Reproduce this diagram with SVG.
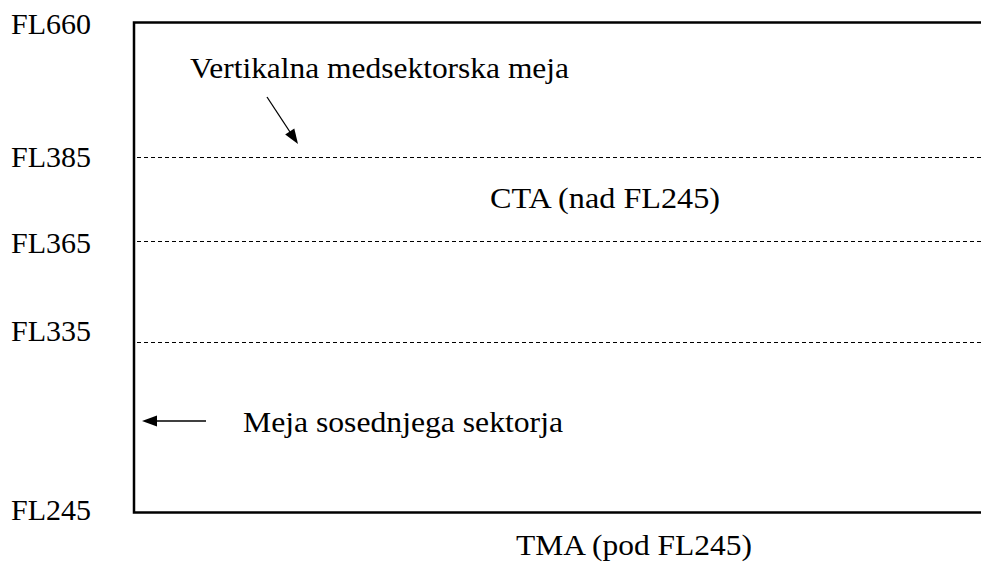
<svg xmlns="http://www.w3.org/2000/svg" width="981" height="570" viewBox="0 0 981 570">
<style>
text{font-family:"Times New Roman","Liberation Serif","DejaVu Serif",serif;font-size:30px;fill:#000}
.frame{fill:none;stroke:#000;stroke-width:2.5}
.dash{stroke:#000;stroke-width:1;stroke-dasharray:4 3;fill:none}
.arr{stroke:#000;stroke-width:1.3;fill:none}
.head{fill:#000;stroke:none}
</style>
<g id="frame">
<polyline class="frame" points="981,22.5 134,22.5 134,512.5 981,512.5"/>
</g>
<g id="levels">
<line class="dash" x1="137" y1="157.5" x2="981" y2="157.5"/>
<line class="dash" x1="137" y1="241.5" x2="981" y2="241.5"/>
<line class="dash" x1="137" y1="342.5" x2="981" y2="342.5"/>
</g>
<g id="labels">
<text x="11" y="34" textLength="80" lengthAdjust="spacingAndGlyphs">FL660</text>
<text x="11" y="167" textLength="80" lengthAdjust="spacingAndGlyphs">FL385</text>
<text x="11" y="253" textLength="80" lengthAdjust="spacingAndGlyphs">FL365</text>
<text x="11" y="341" textLength="80" lengthAdjust="spacingAndGlyphs">FL335</text>
<text x="11" y="520" textLength="80" lengthAdjust="spacingAndGlyphs">FL245</text>
</g>
<g id="vmeja"><text x="190" y="78" textLength="379" lengthAdjust="spacingAndGlyphs">Vertikalna medsektorska meja</text></g>
<g id="cta"><text x="490" y="208" textLength="230" lengthAdjust="spacingAndGlyphs">CTA (nad FL245)</text></g>
<g id="meja"><text x="243" y="432" textLength="320" lengthAdjust="spacingAndGlyphs">Meja sosednjega sektorja</text></g>
<g id="tma"><text x="516" y="555" textLength="236" lengthAdjust="spacingAndGlyphs">TMA (pod FL245)</text></g>
<g id="connectors">
<line class="arr" x1="267" y1="97" x2="290" y2="132"/>
<polygon class="head" points="298,144 285.2,134.5 294.3,128.5"/>
<line class="arr" x1="206" y1="421" x2="156" y2="421"/>
<polygon class="head" points="142,421 157,415.5 157,426.5"/>
</g>
</svg>
